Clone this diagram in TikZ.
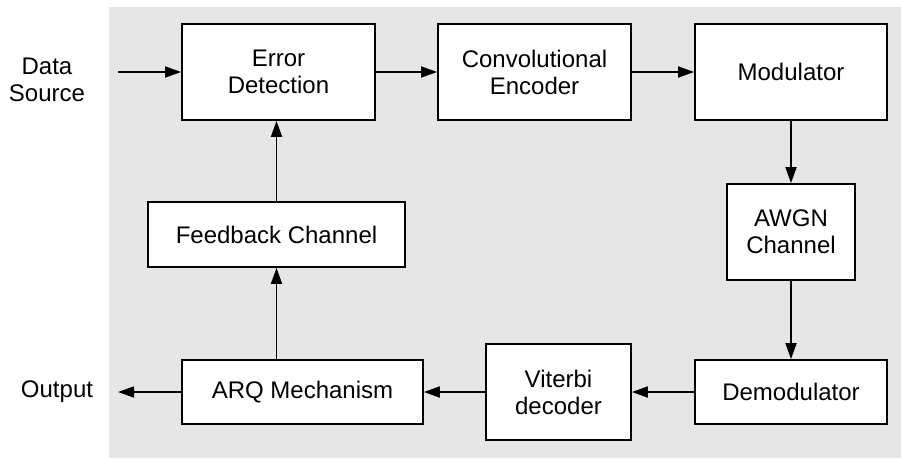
\documentclass[tikz,border=0pt]{standalone}
\usepackage{fontspec}
\setmainfont{Liberation Sans}
\usetikzlibrary{arrows.meta}
\definecolor{panelgray}{RGB}{230,230,230}

\begin{document}
\begin{tikzpicture}[x=1pt, y=-1pt,
    block/.style={draw, line width=1.8pt, fill=white, align=center, inner sep=0pt,
                  font=\fontsize{24}{27}\selectfont},
    sidetext/.style={align=center, font=\fontsize{24}{27}\selectfont},
    flow/.style={line width=1.8pt, -{Triangle[length=16pt, width=11pt]}}]

  % grey panel behind the blocks
  \fill[panelgray] (109,7) rectangle (901,458);
  \useasboundingbox (0,0) rectangle (901,458);

  % top row
  \node[block, minimum width=193pt, minimum height=96pt] (errdet) at (278.5,72) {Error\\Detection};
  \node[block, minimum width=193pt, minimum height=96pt] (convenc) at (534.5,72) {Convolutional\\Encoder};
  \node[block, minimum width=192pt, minimum height=96pt] (mod) at (791,72) {Modulator};

  % right column and bottom row
  \node[block, minimum width=128pt, minimum height=96pt] (awgn) at (791,232) {AWGN\\Channel};
  \node[block, minimum width=192pt, minimum height=64pt] (demod) at (791,392) {Demodulator};
  \node[block, minimum width=145pt, minimum height=96pt] (viterbi) at (558.5,392) {Viterbi\\decoder};
  \node[block, minimum width=241pt, minimum height=64pt] (arq) at (302.5,392) {ARQ Mechanism};
  \node[block, minimum width=257pt, minimum height=65pt] (fb) at (276.5,234.5) {Feedback Channel};

  % outside labels
  \node[sidetext] (src) at (47,80) {Data\\Source};
  \node[sidetext] (out) at (57,392) {Output};
  \coordinate (datain) at (118,72);
  \coordinate (dataout) at (118,392);

  % the main chain
  \foreach \a/\b in {datain/errdet, errdet/convenc, convenc/mod, mod/awgn,
                     awgn/demod, demod/viterbi, viterbi/arq, arq/dataout}
    \draw[flow] (\a) -- (\b);

  % feedback path
  \draw[flow] (arq.north -| fb) -- (fb.south);
  \draw[flow] (fb.north) -- (fb.north |- errdet.south);
\end{tikzpicture}
\end{document}
